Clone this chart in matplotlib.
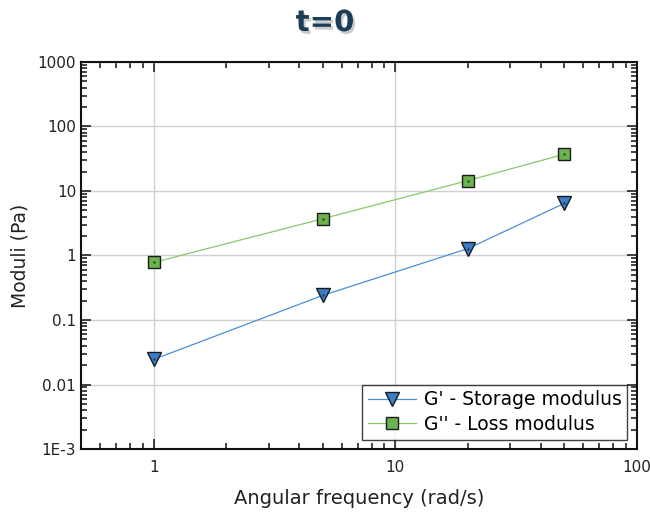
import matplotlib
matplotlib.use("Agg")
import matplotlib.pyplot as plt
import matplotlib.patheffects as pe
from matplotlib.ticker import LogLocator, FixedLocator, NullFormatter

plt.rcParams['font.family'] = ['DejaVu Sans']

# %% Datos
frecuencia = [1, 5, 20, 50]
g_storage = [0.0245, 0.24, 1.28, 6.4]
g_loss = [0.78, 3.7, 14.5, 37]
y_ticks = [1e-3, 0.01, 0.1, 1, 10, 100, 1000]
y_labels = ['1E-3', '0.01', '0.1', '1', '10', '100', '1000']
x_ticks = [1, 10, 100]
x_labels = ['1', '10', '100']

# %% Figura
fig = plt.figure(figsize=(6.5, 5.12), dpi=100)
ax = fig.add_axes([0.1246, 0.123, 0.855, 0.756])

ax.plot(frecuencia, g_storage, color='#4a8fd6', lw=0.9, marker='v', ms=10,
        mfc='#3a7ec8', mec='#1a1a1a', mew=1.0, label="G' - Storage modulus",
        zorder=3)
ax.plot(frecuencia, g_loss, color='#86c96a', lw=0.9, marker='s', ms=8,
        mfc='#6cb34f', mec='#1a1a1a', mew=1.0, label="G'' - Loss modulus",
        zorder=3)
# puntito central de los marcadores
ax.plot(frecuencia, g_storage, ls='none', marker='.', ms=1.5, color='#1a3a5a', zorder=4)
ax.plot(frecuencia, g_loss, ls='none', marker='.', ms=1.5, color='#2a4a1a', zorder=4)

ax.set_xscale('log')
ax.set_yscale('log')
ax.set_xlim(0.5, 100)
ax.set_ylim(1e-3, 1000)

ax.xaxis.set_major_locator(FixedLocator(x_ticks))
ax.set_xticklabels(x_labels)
ax.yaxis.set_major_locator(FixedLocator(y_ticks))
ax.set_yticklabels(y_labels)
ax.xaxis.set_minor_locator(LogLocator(base=10, subs=range(2, 10)))
ax.yaxis.set_minor_locator(LogLocator(base=10, subs=range(2, 10), numticks=20))
ax.xaxis.set_minor_formatter(NullFormatter())
ax.yaxis.set_minor_formatter(NullFormatter())

ax.tick_params(which='both', direction='in', top=True, right=True, labelsize=11,
               colors='#222222', width=1.2)
ax.tick_params(which='major', length=7)
ax.tick_params(which='minor', length=4)
ax.tick_params(axis='x', which='major', pad=8)
for s in ax.spines.values():
    s.set_linewidth(1.5)
    s.set_color('#111111')

ax.grid(True, which='major', color='#d0d0d0', lw=1.0)
ax.set_axisbelow(True)

ax.set_xlabel('Angular frequency (rad/s)', fontsize=14, labelpad=10, color='#222222')
ax.set_ylabel('Moduli (Pa)', fontsize=13.5, labelpad=6, color='#222222')

titulo = fig.text(0.5, 0.955, 't=0', ha='center', va='center', fontsize=21,
                  fontweight='bold', color='#1c3d55')
titulo.set_path_effects([pe.withSimplePatchShadow(offset=(1.5, -2), alpha=0.4,
                                                  shadow_rgbFace='gray')])

leg = ax.legend(loc='lower right', fontsize=13.5, frameon=True, fancybox=False,
                edgecolor='#111111', borderaxespad=0.5, handlelength=2.6,
                borderpad=0.3, labelspacing=0.3, handletextpad=0.4)
leg.get_frame().set_linewidth(1.0)

fig.savefig('out.png', dpi=100)
